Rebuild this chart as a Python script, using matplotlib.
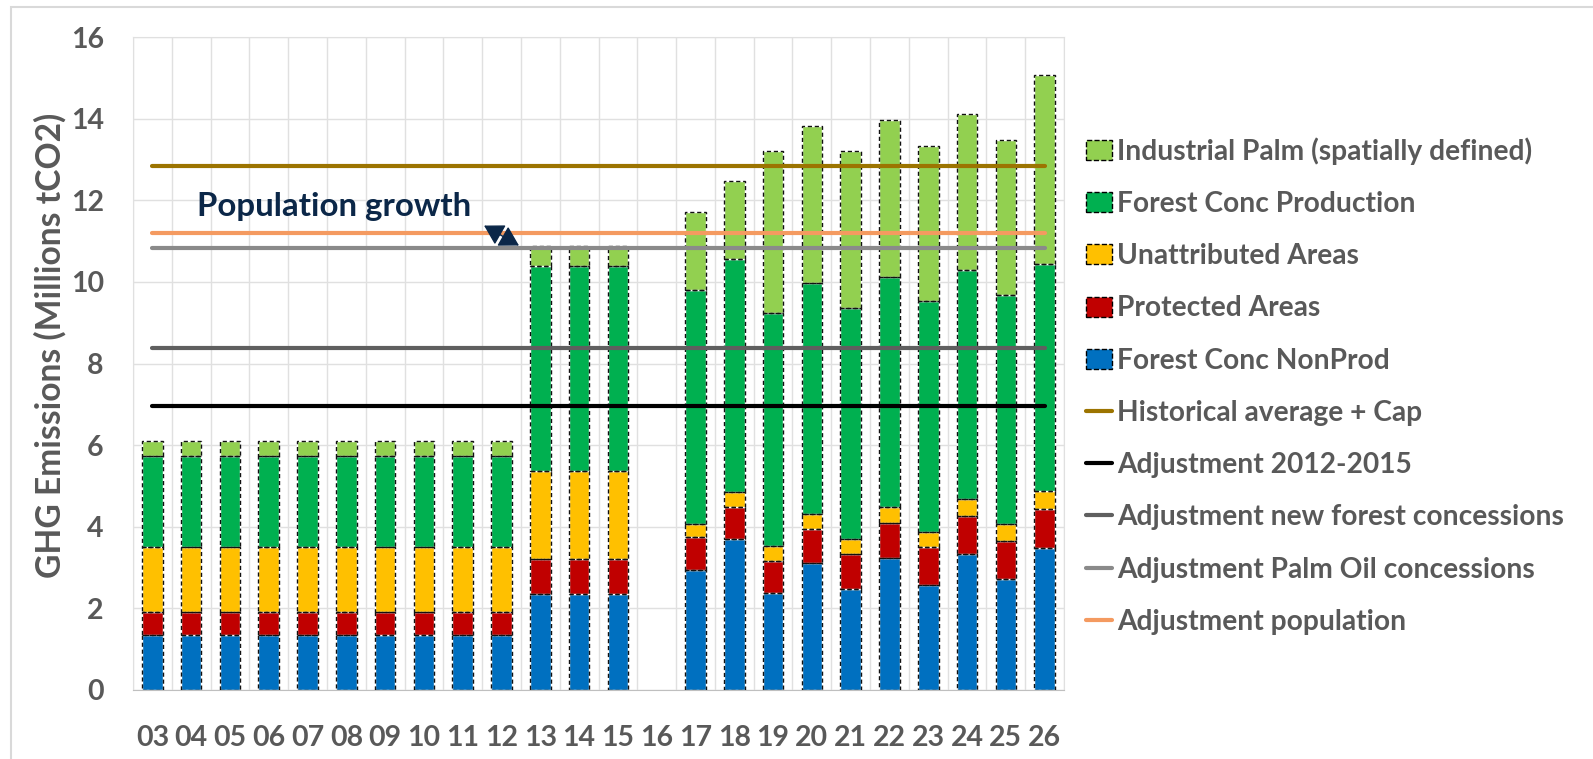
import numpy as np
import matplotlib
matplotlib.use("Agg")
import matplotlib.pyplot as plt
from matplotlib.patches import Patch, Rectangle
from matplotlib.lines import Line2D
from matplotlib.font_manager import FontProperties
from matplotlib.textpath import TextPath

nan = np.nan
# ---------------- data ----------------
years = ['03', '04', '05', '06', '07', '08', '09', '10', '11', '12', '13', '14',
         '15', '16', '17', '18', '19', '20', '21', '22', '23', '24', '25', '26']

forest_nonprod = [1.35, 1.35, 1.35, 1.35, 1.35, 1.35, 1.35, 1.35, 1.35, 1.35,
                  2.35, 2.35, 2.35, nan,
                  2.94, 3.70, 2.37, 3.12, 2.47, 3.23, 2.57, 3.33, 2.71, 3.47]
protected = [0.57, 0.57, 0.57, 0.57, 0.57, 0.57, 0.57, 0.57, 0.57, 0.57,
             0.86, 0.86, 0.86, nan,
             0.80, 0.79, 0.79, 0.83, 0.86, 0.87, 0.93, 0.93, 0.94, 0.97]
unattributed = [1.59, 1.59, 1.59, 1.59, 1.59, 1.59, 1.59, 1.59, 1.59, 1.59,
                2.16, 2.16, 2.16, nan,
                0.32, 0.35, 0.37, 0.36, 0.37, 0.39, 0.38, 0.43, 0.41, 0.44]
forest_prod = [2.23, 2.23, 2.23, 2.23, 2.23, 2.23, 2.23, 2.23, 2.23, 2.23,
               5.03, 5.03, 5.03, nan,
               5.74, 5.72, 5.70, 5.67, 5.65, 5.64, 5.64, 5.59, 5.62, 5.56]
industrial_palm = [0.36, 0.36, 0.36, 0.36, 0.36, 0.36, 0.36, 0.36, 0.36, 0.36,
                   0.49, 0.49, 0.49, nan,
                   1.91, 1.90, 3.98, 3.85, 3.86, 3.84, 3.82, 3.84, 3.80, 4.63]

hist_avg_cap = 12.85
adj_2012_2015 = 6.96
adj_new_forest = 8.37
adj_palm_oil = 10.82
adj_population = 11.19

# ---------------- styling ----------------
W, H, DPI = 1593, 759, 100
FONT = 'Lato'
GRAY_TXT = '#595959'
NAVY = '#0B2748'

def fit_fs(s, target_px, family=FONT, weight='bold'):
    tp = TextPath((0, 0), s, size=20, prop=FontProperties(family=family, weight=weight))
    w = tp.get_extents().width
    return 20 * target_px * 72.0 / DPI / w

fig = plt.figure(figsize=(W / DPI, H / DPI), dpi=DPI)
fig.patch.set_facecolor('white')

L, R, T, B = 133, 1064, 37, 690
ax = fig.add_axes([L / W, 1 - B / H, (R - L) / W, (B - T) / H])

x = np.arange(len(years))
series = [
    ('Forest Conc NonProd', forest_nonprod, '#0070C0'),
    ('Protected Areas', protected, '#C00000'),
    ('Unattributed Areas', unattributed, '#FFC000'),
    ('Forest Conc Production', forest_prod, '#00B050'),
    ('Industrial Palm (spatially defined)', industrial_palm, '#92D050'),
]
bw = 0.53
bottom = np.zeros(len(years))
for name, vals, col in series:
    v = np.array(vals, dtype=float)
    ax.bar(x, v, bw, bottom=bottom, color=col, edgecolor='white', linewidth=1.0, zorder=2)
    ax.bar(x, v, bw, bottom=bottom, fill=False, edgecolor='#111111',
           linewidth=1.0, linestyle=(0, (3, 2)), zorder=3)
    bottom = bottom + v

lines = [
    ('Historical average + Cap', hist_avg_cap, '#9C7400'),
    ('Adjustment 2012-2015', adj_2012_2015, '#000000'),
    ('Adjustment new forest concessions', adj_new_forest, '#5F5F5F'),
    ('Adjustment Palm Oil concessions', adj_palm_oil, '#8A8A8A'),
    ('Adjustment population', adj_population, '#F49A60'),
]
for name, val, col in lines:
    ax.plot([x[0], x[-1]], [val, val], color=col, lw=3.0, solid_capstyle='round', zorder=4)

ax.set_xlim(-0.5, len(years) - 0.5)
ax.set_ylim(0, 16)
ax.set_yticks(np.arange(0, 17, 2))
ax.set_xticks(x)
ax.set_xticks(np.arange(-0.5, len(years), 1.0), minor=True)
ax.grid(True, which='major', axis='y', color='#E0E0E0', lw=1.0, zorder=0)
ax.grid(True, which='minor', axis='x', color='#E0E0E0', lw=1.0, zorder=0)
ax.set_axisbelow(True)
for s in ['left', 'right', 'top']:
    ax.spines[s].set_color('#E0E0E0')
ax.spines['bottom'].set_color('#BFBFBF')
ax.tick_params(which='both', length=0)

tick_fs = fit_fs('03', 31)
ax.set_xticklabels(years, fontsize=tick_fs, fontweight='bold', color=GRAY_TXT, family=FONT)
ax.set_yticklabels([str(v) for v in range(0, 17, 2)], fontsize=tick_fs, fontweight='bold',
                   color=GRAY_TXT, family=FONT)
ax.tick_params(axis='y', pad=21)
ax.tick_params(axis='x', pad=25)

ylab = 'GHG Emissions (Millions tCO2)'
fig.text(50 / W, 1 - 345 / H, ylab, rotation=90, ha='center', va='center',
         fontsize=fit_fs(ylab, 463), fontweight='bold', color=GRAY_TXT, family=FONT)

# annotation
pg = 'Population growth'
ax.text(1.16, 11.85, pg, ha='left', va='center', fontsize=fit_fs(pg, 270),
        fontweight='bold', color=NAVY, family=FONT, zorder=6)
ax.annotate('', xy=(9.45, 10.89), xytext=(8.55, 11.38),
            arrowprops=dict(arrowstyle='<|-|>,head_length=0.6,head_width=0.35',
                            mutation_scale=20, color=NAVY, lw=1.0,
                            shrinkA=0, shrinkB=0), zorder=6)

# legend
leg_fs = fit_fs('Adjustment new forest concessions', 445)
fpx = leg_fs * DPI / 72.0
handles = []
labels = []
for name, vals, col in series[::-1]:
    handles.append(Patch(facecolor=col, edgecolor='black', linestyle='--', linewidth=1.0))
    labels.append(name)
for name, val, col in lines:
    handles.append(Line2D([0], [1], color=col, lw=3.0, solid_capstyle='round'))
    labels.append(name)
leg = fig.legend(handles, labels, loc='center left',
                 bbox_to_anchor=(1086 / W, 1 - 386 / H), frameon=False,
                 prop=FontProperties(family=FONT, weight='bold', size=leg_fs),
                 handlelength=26 / fpx, handleheight=20 / fpx, handletextpad=5 / fpx,
                 labelspacing=(60 - 1.2 * fpx) / fpx, borderpad=0, borderaxespad=0)
for t in leg.get_texts():
    t.set_color(GRAY_TXT)

# outer frame
fig.add_artist(Rectangle((11 / W, -0.05), 1.2, 1 - 7 / H + 0.05, transform=fig.transFigure,
                         fill=False, edgecolor='#D9D9D9', lw=1.5))

fig.savefig('out.png', dpi=DPI, facecolor='white')
